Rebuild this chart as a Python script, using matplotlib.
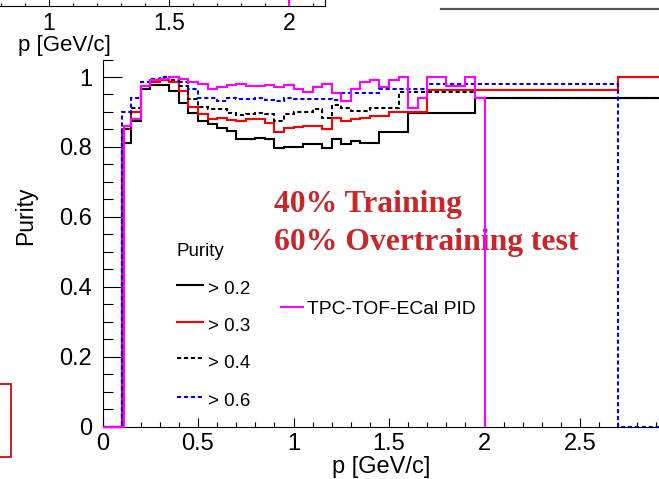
import matplotlib
matplotlib.use("Agg")
import matplotlib.pyplot as plt
from matplotlib.lines import Line2D
from matplotlib.patches import Rectangle
from matplotlib.ticker import MultipleLocator

plt.rcParams["font.family"] = ["Liberation Sans", "DejaVu Sans"]
plt.rcParams["lines.scale_dashes"] = False

# ---------------------------------------------------------------- data
# purity > 0.2 (black solid)
p02_edges = [0, 0.10, 0.15, 0.20, 0.25, 0.30, 0.35, 0.40, 0.45, 0.50, 0.55,
             0.60, 0.65, 0.70, 0.75, 0.80, 0.85, 0.90, 0.95, 1.00, 1.05,
             1.10, 1.15, 1.20, 1.25, 1.30, 1.35, 1.45, 1.60, 1.95, 3.00]
p02_vals = [0, 0.810, 0.875, 0.965, 0.978, 0.978, 0.961, 0.927, 0.898, 0.874,
            0.865, 0.855, 0.846, 0.822, 0.822, 0.826, 0.822, 0.798, 0.800,
            0.800, 0.808, 0.808, 0.798, 0.822, 0.808, 0.817, 0.810, 0.842,
            0.897, 0.941]

# purity > 0.3 (red solid)
p03_edges = [0, 0.10, 0.15, 0.20, 0.25, 0.30, 0.35, 0.40, 0.45, 0.50, 0.55,
             0.60, 0.65, 0.70, 0.75, 0.80, 0.85, 0.90, 0.95, 1.00, 1.05,
             1.10, 1.15, 1.20, 1.25, 1.30, 1.35, 1.40, 1.50, 1.70, 2.70, 3.00]
p03_vals = [0, 0.850, 0.900, 0.975, 0.985, 0.990, 0.985, 0.961, 0.913, 0.894,
            0.879, 0.884, 0.877, 0.874, 0.879, 0.879, 0.869, 0.843, 0.855,
            0.857, 0.860, 0.860, 0.852, 0.884, 0.874, 0.879, 0.884, 0.889,
            0.900, 0.964, 1.000]

# purity > 0.4 (black dashed)
p04_edges = [0, 0.10, 0.15, 0.20, 0.25, 0.30, 0.35, 0.40, 0.45, 0.50, 0.55,
             0.60, 0.65, 0.70, 0.75, 0.80, 0.85, 0.90, 0.95, 1.00, 1.05,
             1.10, 1.15, 1.20, 1.25, 1.30, 1.40, 1.55, 1.95, 3.00]
p04_vals = [0, 0.850, 0.910, 0.975, 0.990, 0.995, 0.990, 0.975, 0.937, 0.913,
            0.908, 0.908, 0.898, 0.891, 0.895, 0.898, 0.895, 0.874, 0.893,
            0.901, 0.901, 0.908, 0.884, 0.920, 0.912, 0.903, 0.912, 0.958,
            0.940]

# purity > 0.6 (blue dashed)
p06_edges = [0, 0.10, 0.15, 0.20, 0.25, 0.30, 0.35, 0.40, 0.45, 0.50, 0.55,
             0.60, 0.65, 0.70, 0.75, 0.80, 0.85, 0.90, 0.95, 1.00, 1.05,
             1.10, 1.15, 1.20, 1.25, 1.45, 1.70, 2.70, 3.00]
p06_vals = [0, 0.900, 0.940, 0.985, 0.995, 1.000, 1.000, 0.985, 0.965, 0.940,
            0.940, 0.932, 0.941, 0.937, 0.937, 0.941, 0.935, 0.930, 0.941,
            0.937, 0.937, 0.937, 0.937, 0.935, 0.953, 0.965, 0.980, 0.0]

# TPC-TOF-ECal PID (magenta)
pid_edges = [0, 0.115, 0.15, 0.20, 0.25, 0.30, 0.35, 0.40, 0.45, 0.50, 0.55,
             0.60, 0.65, 0.70, 0.75, 0.80, 0.85, 0.90, 0.95, 1.00, 1.05,
             1.10, 1.15, 1.20, 1.25, 1.30, 1.35, 1.40, 1.45, 1.50, 1.55,
             1.60, 1.65, 1.70, 1.75, 1.80, 1.85, 1.90, 1.95, 2.00]
pid_vals = [0, 0.860, 0.880, 0.975, 0.990, 0.995, 1.000, 0.995, 0.985, 0.980,
            0.966, 0.971, 0.978, 0.981, 0.973, 0.973, 0.978, 0.971, 0.978,
            0.966, 0.956, 0.971, 0.981, 0.955, 0.930, 0.965, 0.985, 0.990,
            0.972, 0.990, 1.000, 0.910, 0.940, 1.000, 1.000, 0.975, 0.975,
            1.000, 0.940]

x_ticks = [0, 0.5, 1, 1.5, 2, 2.5]
x_ticklabels = ["0", "0.5", "1", "1.5", "2", "2.5"]
y_ticks = [0, 0.2, 0.4, 0.6, 0.8, 1.0]
y_ticklabels = ["0", "0.2", "0.4", "0.6", "0.8", "1"]

prev_ticks = [1, 1.5, 2]
prev_ticklabels = ["1", "1.5", "2"]

legend_labels = ["> 0.2", "> 0.3", "> 0.4", "> 0.6"]

# ---------------------------------------------------------------- layout
W, H = 659, 479
fig = plt.figure(figsize=(W / 100, H / 100), dpi=100)


def fx(x):
    return x / W


def fy(y):
    return 1 - y / H


MAGENTA = "#ff00ff"
RED = "#ff0000"
BLUE = "#0000ff"
TEXT_RED = "#c8262a"
DASH = (0, (3, 2))
LW = 1.5
AXLW = 0.8

# main frame: p = 0 at x=102.5 px, 191 px per GeV/c; purity 0 at y=426.5 px
X0, XS = 102.5, 191.0
Y0, YS = 426.5, 349.5
ax = fig.add_axes([fx(X0), fy(Y0), XS * 3.0 / W, YS * 1.05 / H])
ax.set_xlim(0, 3.0)
ax.set_ylim(0, 1.05)
ax.patch.set_alpha(0)
for s in ("top", "right"):
    ax.spines[s].set_visible(False)
for s in ("left", "bottom"):
    ax.spines[s].set_linewidth(AXLW)

ax.set_xticks(x_ticks)
ax.set_xticklabels(x_ticklabels)
ax.set_yticks(y_ticks)
ax.set_yticklabels(y_ticklabels)
ax.xaxis.set_minor_locator(MultipleLocator(0.1))
ax.yaxis.set_minor_locator(MultipleLocator(0.05))
ax.tick_params(axis="x", which="major", direction="in", length=6.8,
               width=AXLW, pad=4.5, labelsize=17)
ax.tick_params(axis="x", which="minor", direction="in", length=3.6,
               width=AXLW)
ax.tick_params(axis="y", which="major", direction="in", length=13.7,
               width=AXLW, pad=7.5, labelsize=17)
ax.tick_params(axis="y", which="minor", direction="in", length=7.2,
               width=AXLW)

ax.stairs(p02_vals, p02_edges, baseline=0, color="black", lw=LW,
          clip_on=False, zorder=2.1)
ax.stairs(p03_vals, p03_edges, baseline=0, color=RED, lw=LW,
          clip_on=False, zorder=2.2)
ax.stairs(p04_vals, p04_edges, baseline=0, color="black", lw=LW,
          linestyle=DASH, clip_on=False, zorder=2.3)
ax.stairs(p06_vals, p06_edges, baseline=0, color=BLUE, lw=LW,
          linestyle=DASH, clip_on=False, zorder=2.4)
ax.stairs(pid_vals, pid_edges, baseline=0, color=MAGENTA, lw=LW,
          clip_on=False, zorder=2.6)

# annotation (sits under the histograms)
ax.text(fx(274), fy(212), "40% Training", transform=fig.transFigure,
        ha="left", va="baseline", fontsize=22.8, fontweight="bold",
        family=["Liberation Serif", "DejaVu Serif"], color=TEXT_RED,
        zorder=1.8)
ax.text(fx(274), fy(250), "60% Overtraining test", transform=fig.transFigure,
        ha="left", va="baseline", fontsize=22.8, fontweight="bold",
        family=["Liberation Serif", "DejaVu Serif"], color=TEXT_RED,
        zorder=1.8)

# axis titles
fig.text(fx(332), fy(467), "p [GeV/c]", ha="left", va="center", fontsize=17)
fig.text(fx(26), fy(216), "Purity", rotation=90, ha="center", va="center",
         fontsize=16.5)

# legend: purity cuts
fig.text(fx(176), fy(252), "Purity", ha="left", va="center", fontsize=13.5)
leg_styles = [("black", "-"), (RED, "-"), ("black", DASH), (BLUE, DASH)]
leg_y = [285, 321.5, 358, 396.5]
for (c, ls), lab, yy in zip(leg_styles, legend_labels, leg_y):
    fig.add_artist(Line2D([fx(177), fx(203)], [fy(yy), fy(yy)], color=c,
                          lw=LW, linestyle=ls))
    fig.text(fx(208), fy(yy + 5), lab, ha="left", va="center", fontsize=13.5)

# legend: PID curve
fig.add_artist(Line2D([fx(281), fx(303)], [fy(307), fy(307)], color=MAGENTA,
                      lw=LW))
fig.text(fx(307), fy(309), "TPC-TOF-ECal PID", ha="left", va="center",
         fontsize=13.9)

# neighbouring pad above: its momentum axis (1 GeV/c at x=49 px, 240 px/unit)
L_PX, R_PX = -40.0, 325.0


def prev_p(px):
    return 1 + (px - 49.0) / 240.0


ax2 = fig.add_axes([fx(L_PX), fy(6), (R_PX - L_PX) / W, 0.3])
ax2.set_xlim(prev_p(L_PX), prev_p(R_PX))
ax2.set_ylim(0, 1)
ax2.patch.set_alpha(0)
ax2.spines["top"].set_visible(False)
ax2.spines["left"].set_visible(False)
ax2.spines["bottom"].set_linewidth(AXLW)
ax2.spines["right"].set_linewidth(AXLW)
ax2.set_yticks([])
ax2.set_xticks(prev_ticks)
ax2.set_xticklabels(prev_ticklabels)
ax2.xaxis.set_minor_locator(MultipleLocator(0.1))
ax2.tick_params(axis="x", which="major", direction="in", length=8,
                width=AXLW, pad=4.5, labelsize=16.5)
ax2.tick_params(axis="x", which="minor", direction="in", length=2.4,
                width=AXLW)
ax2.axvline(2.0, color=MAGENTA, lw=LW)
fig.text(fx(18), fy(45.5), "p [GeV/c]", ha="left", va="center", fontsize=16)

# neighbouring pad on the right: edge of its legend box
fig.add_artist(Line2D([fx(441), fx(665)], [fy(9), fy(9)], color="#555555",
                      lw=1.6))

# neighbouring pad bottom-left: red frame
fig.add_artist(Rectangle((fx(-20), fy(457)), 31 / W, (457 - 384) / H,
                         transform=fig.transFigure, fill=False,
                         edgecolor=TEXT_RED, lw=1.5))

fig.savefig("out.png", dpi=100)
